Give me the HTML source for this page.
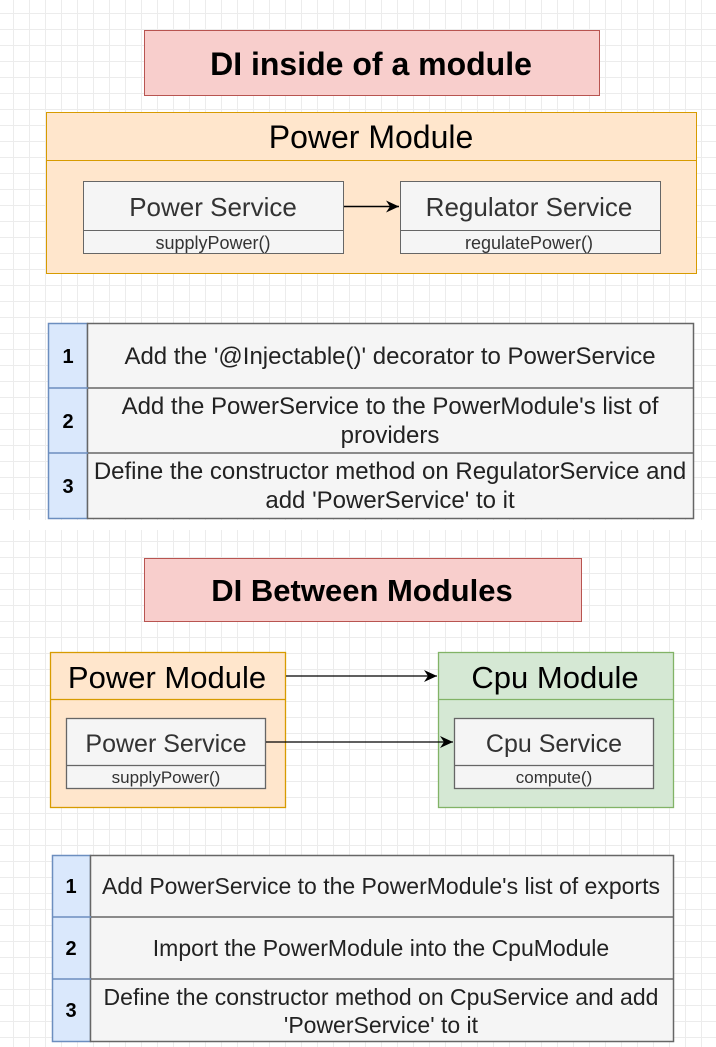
<!DOCTYPE html>
<html><head><style>
html,body{margin:0;padding:0;}
body{width:716px;height:1047px;overflow:hidden;background:#fff;
background-image:linear-gradient(#ececec 1px,transparent 1px),linear-gradient(90deg,#ececec 1px,transparent 1px);
background-size:16px 16px;background-position:13px 13px;}
svg{position:absolute;left:0;top:0;}
text{font-family:"Liberation Sans",Arial,sans-serif;}
</style></head><body>
<svg width="716" height="1047" viewBox="0 0 716 1047">
<defs><marker id="a" markerWidth="14" markerHeight="14" refX="13" refY="6" orient="auto" markerUnits="userSpaceOnUse"><path d="M0,0 L13,6 L0,12 L4,6 z" fill="#000"/></marker></defs>
<rect x="0" y="520" width="716" height="10" fill="#fff"/>
<!-- Title 1 -->
<rect x="144.5" y="30.5" width="455" height="65" fill="#f8cecc" stroke="#b85450"/>
<text x="371" y="75" font-size="32" font-weight="bold" text-anchor="middle">DI inside of a module</text>
<!-- Power module -->
<rect x="46.5" y="112.5" width="650" height="161" fill="#ffe6cc" stroke="#d79b00"/>
<line x1="46" y1="160.5" x2="697" y2="160.5" stroke="#d79b00"/>
<text x="371" y="148" font-size="32" text-anchor="middle">Power Module</text>
<rect x="83.5" y="181.5" width="260" height="72" fill="#f5f5f5" stroke="#666"/>
<line x1="83" y1="230.5" x2="344" y2="230.5" stroke="#666"/>
<text x="213" y="216" font-size="26" text-anchor="middle" fill="#333">Power Service</text>
<text x="213" y="249" font-size="18" text-anchor="middle" fill="#333">supplyPower()</text>
<rect x="400.5" y="181.5" width="260" height="72" fill="#f5f5f5" stroke="#666"/>
<line x1="400" y1="230.5" x2="661" y2="230.5" stroke="#666"/>
<text x="529" y="216" font-size="26" text-anchor="middle" fill="#333">Regulator Service</text>
<text x="529" y="249" font-size="18" text-anchor="middle" fill="#333">regulatePower()</text>
<line x1="344" y1="206.5" x2="399" y2="206.5" stroke="#000" stroke-width="1.5" marker-end="url(#a)"/>
<!-- Table 1 -->
<rect x="48.5" y="323.5" width="39" height="195" fill="#dae8fc" stroke="#6c8ebf" stroke-width="1.5"/>
<rect x="87.5" y="323.5" width="606" height="195" fill="#f5f5f5" stroke="#666" stroke-width="1.5"/>
<line x1="48" y1="388" x2="88" y2="388" stroke="#6c8ebf" stroke-width="1.5"/>
<line x1="48" y1="453" x2="88" y2="453" stroke="#6c8ebf" stroke-width="1.5"/>
<line x1="88" y1="388" x2="694" y2="388" stroke="#666" stroke-width="1.5"/>
<line x1="88" y1="453" x2="694" y2="453" stroke="#666" stroke-width="1.5"/>
<g font-size="20" font-weight="bold" text-anchor="middle"><text x="68" y="363">1</text><text x="68" y="428">2</text><text x="68" y="493">3</text></g>
<g font-size="24" text-anchor="middle" fill="#222">
<text x="390" y="364">Add the '@Injectable()' decorator to PowerService</text>
<text x="390" y="414">Add the PowerService to the PowerModule's list of</text>
<text x="390" y="443">providers</text>
<text x="390" y="479">Define the constructor method on RegulatorService and</text>
<text x="390" y="508">add 'PowerService' to it</text>
</g>
<!-- Title 2 -->
<rect x="144.5" y="558.5" width="437" height="63" fill="#f8cecc" stroke="#b85450"/>
<text x="362" y="601" font-size="31" font-weight="bold" text-anchor="middle">DI Between Modules</text>
<!-- Power module 2 -->
<rect x="50.5" y="652.5" width="235" height="155" fill="#ffe6cc" stroke="#d79b00" stroke-width="1.3"/>
<line x1="50" y1="699.5" x2="286" y2="699.5" stroke="#d79b00" stroke-width="1.3"/>
<text x="167" y="688" font-size="31" text-anchor="middle">Power Module</text>
<rect x="66.5" y="718.5" width="199" height="70" fill="#f5f5f5" stroke="#666" stroke-width="1.3"/>
<line x1="66" y1="765.5" x2="266" y2="765.5" stroke="#666" stroke-width="1.3"/>
<text x="166" y="752" font-size="25" text-anchor="middle" fill="#333">Power Service</text>
<text x="166" y="783" font-size="17" text-anchor="middle" fill="#333">supplyPower()</text>
<!-- Cpu module -->
<rect x="438.5" y="652.5" width="235" height="155" fill="#d5e8d4" stroke="#82b366" stroke-width="1.3"/>
<line x1="438" y1="699.5" x2="674" y2="699.5" stroke="#82b366" stroke-width="1.3"/>
<text x="555" y="688" font-size="31" text-anchor="middle">Cpu Module</text>
<rect x="454.5" y="718.5" width="199" height="70" fill="#f5f5f5" stroke="#666" stroke-width="1.3"/>
<line x1="454" y1="765.5" x2="654" y2="765.5" stroke="#666" stroke-width="1.3"/>
<text x="554" y="752" font-size="25" text-anchor="middle" fill="#333">Cpu Service</text>
<text x="554" y="783" font-size="17" text-anchor="middle" fill="#333">compute()</text>
<line x1="286" y1="676" x2="437" y2="676" stroke="#000" stroke-width="1.3" marker-end="url(#a)"/>
<line x1="266" y1="742" x2="453" y2="742" stroke="#000" stroke-width="1.3" marker-end="url(#a)"/>
<!-- Table 2 -->
<rect x="52.5" y="855.5" width="38" height="186" fill="#dae8fc" stroke="#6c8ebf" stroke-width="1.5"/>
<rect x="90.5" y="855.5" width="583" height="186" fill="#f5f5f5" stroke="#666" stroke-width="1.5"/>
<line x1="52" y1="917" x2="91" y2="917" stroke="#6c8ebf" stroke-width="1.5"/>
<line x1="52" y1="979" x2="91" y2="979" stroke="#6c8ebf" stroke-width="1.5"/>
<line x1="91" y1="917" x2="674" y2="917" stroke="#666" stroke-width="1.5"/>
<line x1="91" y1="979" x2="674" y2="979" stroke="#666" stroke-width="1.5"/>
<g font-size="20" font-weight="bold" text-anchor="middle"><text x="71" y="893">1</text><text x="71" y="955">2</text><text x="71" y="1017">3</text></g>
<g font-size="23" text-anchor="middle" fill="#222">
<text x="381" y="894">Add PowerService to the PowerModule's list of exports</text>
<text x="381" y="956">Import the PowerModule into the CpuModule</text>
<text x="381" y="1005">Define the constructor method on CpuService and add</text>
<text x="381" y="1033">'PowerService' to it</text>
</g>
</svg>
</body></html>
